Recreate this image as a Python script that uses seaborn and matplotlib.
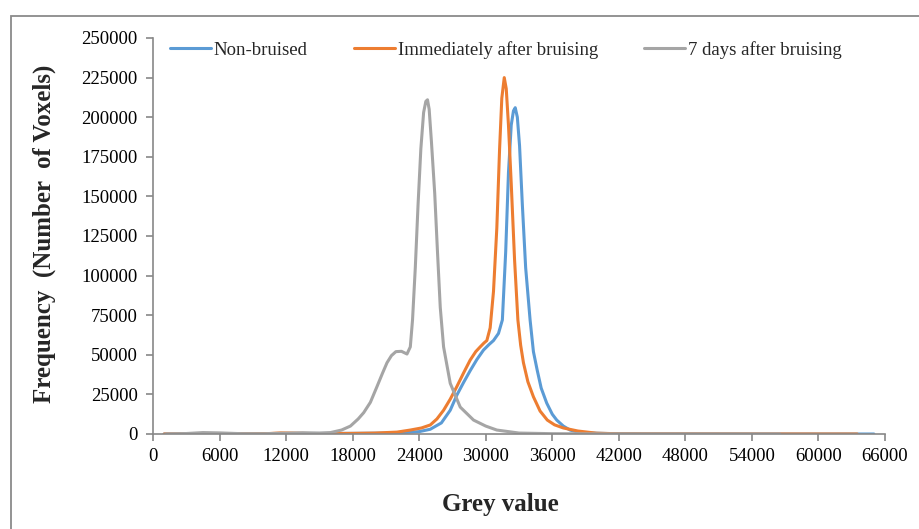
import numpy as np
import pandas as pd
import matplotlib
matplotlib.use("Agg")
import matplotlib.pyplot as plt
import matplotlib.patches as mpatches
import seaborn as sns

# Histogram curves of grey values (x = grey value, y = number of voxels)
non_bruised_x = [1000, 5000, 10000, 14000, 18000, 22000, 24000, 25000, 26000, 26800, 27400, 28000,
                 28600, 29200, 29800, 30300, 30700, 31150, 31500, 31800, 32050, 32300, 32500, 32660,
                 32850, 33050, 33300, 33600, 34000, 34300, 34650, 35000, 35500, 36000, 36400, 37000,
                 37600, 38300, 39000, 41000, 45000, 55000, 65000]
non_bruised_y = [0, 100, 200, 300, 400, 600, 1500, 3000, 7000, 15000, 24600, 32500,
                 40000, 47000, 53000, 56500, 59000, 63500, 72000, 115000, 165000, 195000, 204000, 206000,
                 200000, 182000, 145000, 105000, 72000, 52000, 40000, 29000, 19500, 12500, 8800, 5000,
                 2500, 1200, 700, 300, 100, 0, 0]

immediate_x = [1000, 5000, 8000, 10500, 11500, 12500, 14000, 16000, 18000, 20000, 22000, 23200,
               24200, 25000, 25600, 26200, 26800, 27400, 28000, 28600, 29100, 29500, 29850, 30100,
               30400, 30700, 31000, 31250, 31450, 31670, 31850, 32050, 32300, 32600, 32900, 33150,
               33400, 33800, 34300, 34900, 35550, 36200, 37000, 38300, 40000, 42000, 50000, 56000,
               63500]
immediate_y = [0, 200, 100, 300, 700, 600, 300, 300, 400, 600, 1200, 2500,
               3800, 5700, 9500, 15000, 22000, 30000, 38500, 46700, 52000, 55000, 57500, 59000,
               67000, 90000, 130000, 180000, 212000, 225000, 218000, 195000, 158000, 110000, 72000, 56000,
               45000, 33000, 23500, 14500, 8800, 5800, 3800, 1900, 500, 150, 50, 20,
               0]

seven_days_x = [1200, 3000, 4500, 6000, 8000, 10000, 12000, 13500, 15000, 16000, 17000, 17800,
                18500, 19000, 19600, 20200, 20700, 21100, 21500, 21900, 22400, 22900, 23200, 23400,
                23650, 23900, 24150, 24400, 24600, 24750, 24900, 25100, 25400, 25650, 25900, 26200,
                26800, 27700, 28900, 30000, 31000, 33000, 36000, 40000, 50000, 56500]
seven_days_y = [0, 300, 900, 700, 200, 200, 500, 800, 600, 900, 2500, 5000,
                9500, 13500, 20000, 30000, 38500, 45000, 49500, 52000, 52200, 50500, 55000, 72000,
                105000, 145000, 180000, 203000, 210000, 211000, 205000, 185000, 152000, 115000, 80000, 55000,
                32000, 17000, 8800, 5000, 2500, 600, 200, 100, 0, 0]

series_names = ["Non-bruised", "Immediately after bruising", "7 days after bruising"]
series_colors = ["#5B9BD5", "#ED7D31", "#A5A5A5"]

x_ticks = list(range(0, 66001, 6000))
y_ticks = list(range(0, 250001, 25000))

frames = []
for name, xs, ys in zip(series_names,
                        [non_bruised_x, immediate_x, seven_days_x],
                        [non_bruised_y, immediate_y, seven_days_y]):
    frames.append(pd.DataFrame({"Grey value": xs, "Frequency": ys, "Series": name}))
df = pd.concat(frames, ignore_index=True)

sns.set_theme(style="white")
plt.rcParams["font.family"] = ["Liberation Serif", "DejaVu Serif"]

fig = plt.figure(figsize=(9.2, 5.29), dpi=100)
ax = fig.add_axes([153 / 920, 1 - 434 / 529, (885 - 153) / 920, (434 - 38) / 529])

sns.lineplot(data=df, x="Grey value", y="Frequency", hue="Series",
             hue_order=series_names, palette=series_colors, linewidth=2.2,
             sort=True, estimator=None, ax=ax)
for line in ax.get_lines():
    line.set_solid_joinstyle("round")

ax.set_xlim(0, 66000)
ax.set_ylim(0, 250000)
ax.set_xticks(x_ticks)
ax.set_yticks(y_ticks)
ax.set_xticklabels([str(v) for v in x_ticks])
ax.set_yticklabels([str(v) for v in y_ticks])
ax.tick_params(axis="both", which="both", labelsize=13.5, colors="#888888",
               labelcolor="black", length=5, width=1.2, direction="out")
ax.tick_params(axis="x", pad=5)
ax.tick_params(axis="y", pad=6)
ax.xaxis.set_ticks_position("bottom")
ax.yaxis.set_ticks_position("left")

for side in ["top", "right"]:
    ax.spines[side].set_visible(False)
for side in ["left", "bottom"]:
    ax.spines[side].set_color("#888888")
    ax.spines[side].set_linewidth(1.2)

ax.set_xlabel("Grey value", fontsize=18, fontweight="bold")
ax.xaxis.set_label_coords(0.474, -0.148)
ax.set_ylabel("Frequency  (Number  of Voxels)", fontsize=18, fontweight="bold")
ax.yaxis.set_label_coords(-0.132, 0.505)

leg = ax.legend(loc="upper center", bbox_to_anchor=(0.482, 1.035), ncol=3, frameon=False,
                fontsize=13.5, handlelength=2.2, handletextpad=0.15, columnspacing=2.45)
for line in leg.get_lines():
    line.set_linewidth(2.2)

# outer frame of the chart area
fig.patches.append(mpatches.Rectangle((11 / 920, -0.05), 1.2, 1 - 16 / 529 + 0.05,
                                      transform=fig.transFigure, fill=False,
                                      edgecolor="#8a8a8a", linewidth=1.3))

fig.savefig("out.png", dpi=100)
